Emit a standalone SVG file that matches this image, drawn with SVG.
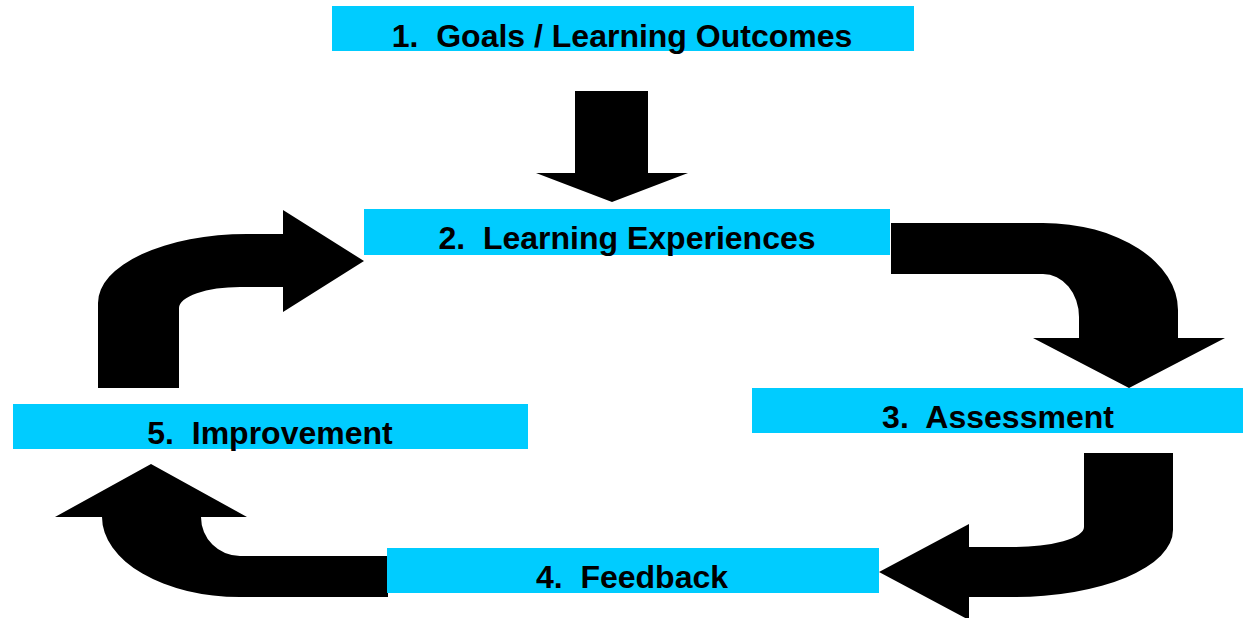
<svg xmlns="http://www.w3.org/2000/svg" width="1244" height="618" viewBox="0 0 1244 618">
<style>
.box{fill:#00CCFF}
.lbl{font-family:"Liberation Sans",Arial,sans-serif;font-weight:bold;font-size:32px;fill:#000;text-anchor:middle;white-space:pre}
.arr{fill:#000}
</style>
<rect width="1244" height="618" fill="#fff"/>
<g id="connectors">
<path class="arr" d="M575,91 H648 V173 H688 L612,202 L536,173 H575 Z"/>
<path class="arr" d="M891,223 H1043 A135,87 0 0 1 1178,310 V338 H1225 L1129,388 L1033,338 H1079 V317 A36,43 0 0 0 1043,274 H891 Z"/>
<path class="arr" d="M1084,453 H1173 V530 A160,67 0 0 1 1013,597 H969 V620 L879,572 L969,524 V547 H1013 A71,20 0 0 0 1084,527 Z"/>
<path class="arr" d="M388,556 H240 A39,39 0 0 1 201,517 H247 L151,464 L55,517 H102 A138,80 0 0 0 240,597 H388 Z"/>
<path class="arr" d="M98,388 V303 A149,69 0 0 1 247,234 H283 V210 L364,261 L283,312 V287 H240 A61,21 0 0 0 179,308 V388 Z"/>
</g>
<g id="node1"><rect class="box" x="332" y="6" width="582" height="45"/><text class="lbl" x="622" y="47" xml:space="preserve">1.  Goals / Learning Outcomes</text></g>
<g id="node2"><rect class="box" x="364" y="209" width="526" height="46"/><text class="lbl" x="627" y="249" xml:space="preserve">2.  Learning Experiences</text></g>
<g id="node3"><rect class="box" x="752" y="388" width="491" height="45"/><text class="lbl" x="998" y="428" xml:space="preserve">3.  Assessment</text></g>
<g id="node4"><rect class="box" x="387" y="548" width="492" height="45"/><text class="lbl" x="632" y="588" xml:space="preserve">4.  Feedback</text></g>
<g id="node5"><rect class="box" x="13" y="404" width="515" height="45"/><text class="lbl" x="270" y="444" xml:space="preserve">5.  Improvement</text></g>
</svg>
